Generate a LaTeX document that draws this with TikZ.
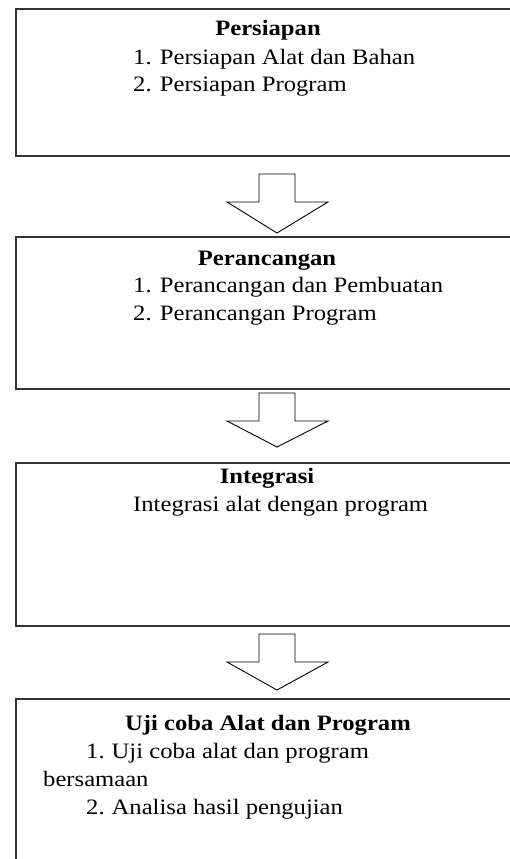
\documentclass[tikz,border=0pt]{standalone}
\usepackage{fontspec}
\setmainfont{Liberation Serif}[FakeStretch=1.12]
\usetikzlibrary{calc}
\tikzset{
  box/.style={draw=black!80, line width=1.7pt, rectangle, inner sep=0pt, anchor=north west},
  blockarrow/.style={draw=black, line width=0.9pt, fill=white, line join=miter},
  txt/.style={inner sep=0pt, font=\fontsize{22}{28}\selectfont},
  ttl/.style={txt, anchor=base, font=\fontsize{22}{28}\selectfont\bfseries},
  item/.style={txt, anchor=base west}
}
\newcommand{\mkarrow}[2]{% #1 = top coordinate, #2 = head length
  \draw[blockarrow] ($(#1)+(-18,0)$) -- ($(#1)+(18,0)$) -- ($(#1)+(18,28)$) -- ($(#1)+(51,28)$)
    -- ($(#1)+(0,28+#2)$) -- ($(#1)+(-50,28)$) -- ($(#1)+(-18,28)$) -- cycle;}
\begin{document}
\begin{tikzpicture}[x=1pt,y=-1pt]
\useasboundingbox (0,0) rectangle (510,859);
\clip (0,0) rectangle (510,859);
\fill[white] (0,0) rectangle (510,859);

% boxes
\node[box, minimum width=510pt, minimum height=147pt] (b1) at (15,8) {};
\node[box, minimum width=510pt, minimum height=152pt] (b2) at (15,236) {};
\node[box, minimum width=510pt, minimum height=163pt] (b3) at (15,462) {};
\node[box, minimum width=510pt, minimum height=200pt] (b4) at (15,698) {};

% block arrows between boxes
\coordinate (a1) at (277,174);
\coordinate (a2) at (277,393);
\coordinate (a3) at (277,634);
\mkarrow{a1}{31}
\mkarrow{a2}{26}
\mkarrow{a3}{28}

% box 1
\node[ttl] (t1) at (268,36) {Persiapan};
\node[item] (t1a) at (133,64) {1. Persiapan Alat dan Bahan};
\node[item] (t1b) at (133,92) {2. Persiapan Program};

% box 2
\node[ttl] (t2) at (267,265) {Perancangan};
\node[item] (t2a) at (133,292) {1. Perancangan dan Pembuatan};
\node[item] (t2b) at (133,320) {2. Perancangan Program};

% box 3
\node[ttl] (t3) at (267,483) {Integrasi};
\node[item] (t3a) at (133,511) {Integrasi alat dengan program};

% box 4
\node[ttl] (t4) at (268,730) {Uji coba Alat dan Program};
\node[item] (t4a) at (86,758) {1.\hspace{7pt}Uji coba alat dan program};
\node[item] (t4b) at (43,786) {bersamaan};
\node[item] (t4c) at (86,814) {2.\hspace{7pt}Analisa hasil pengujian};
\end{tikzpicture}
\end{document}
